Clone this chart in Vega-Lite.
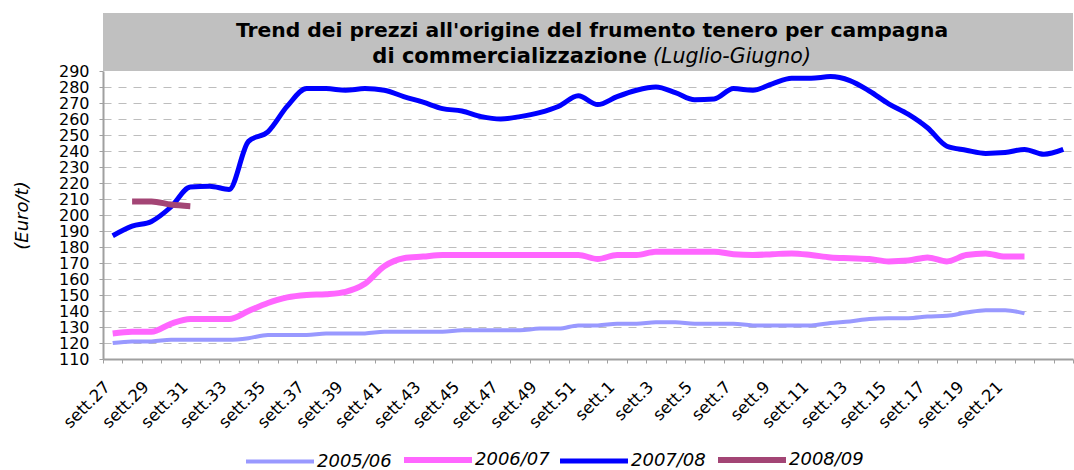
{
  "$schema": "https://vega.github.io/schema/vega-lite/v6.json",
  "padding": {"left": 13, "top": 13, "right": 0, "bottom": 0},
  "spacing": 0,
  "bounds": "flush",
  "config": {
    "font": "DejaVu Sans",
    "view": {"stroke": null}
  },
  "vconcat": [
    {
      "width": 970,
      "height": 58,
      "view": {"fill": "#C0C0C0", "stroke": null},
      "encoding": {
        "y": {"field": "line", "type": "ordinal", "axis": null, "scale": {"type": "point", "range": [24, 50], "padding": 0}}
      },
      "layer": [
        {
          "data": {"values": [{"line": 1, "text": "Trend dei prezzi all'origine del frumento tenero per campagna"}]},
          "mark": {"type": "text", "fontSize": 20.3, "fontWeight": "bold", "baseline": "alphabetic", "align": "center", "dx": 4, "color": "black"},
          "encoding": {"text": {"field": "text"}}
        },
        {
          "data": {"values": [{"line": 2, "text": "di commercializzazione"}]},
          "mark": {"type": "text", "fontSize": 21, "fontWeight": "bold", "baseline": "alphabetic", "align": "right", "dx": 59, "color": "black"},
          "encoding": {"text": {"field": "text"}}
        },
        {
          "data": {"values": [{"line": 2, "text": "(Luglio-Giugno)"}]},
          "mark": {"type": "text", "fontSize": 20.5, "fontStyle": "italic", "fontWeight": "normal", "baseline": "alphabetic", "align": "left", "dx": 65, "color": "black"},
          "encoding": {"text": {"field": "text"}}
        }
      ]
    },
    {
      "width": 970,
      "height": 288,
      "data": {"values": [
        {"week": "sett.27", "series": "2005/06", "value": 120},
        {"week": "sett.28", "series": "2005/06", "value": 121},
        {"week": "sett.29", "series": "2005/06", "value": 121},
        {"week": "sett.30", "series": "2005/06", "value": 122},
        {"week": "sett.31", "series": "2005/06", "value": 122},
        {"week": "sett.32", "series": "2005/06", "value": 122},
        {"week": "sett.33", "series": "2005/06", "value": 122},
        {"week": "sett.34", "series": "2005/06", "value": 123},
        {"week": "sett.35", "series": "2005/06", "value": 125},
        {"week": "sett.36", "series": "2005/06", "value": 125},
        {"week": "sett.37", "series": "2005/06", "value": 125},
        {"week": "sett.38", "series": "2005/06", "value": 126},
        {"week": "sett.39", "series": "2005/06", "value": 126},
        {"week": "sett.40", "series": "2005/06", "value": 126},
        {"week": "sett.41", "series": "2005/06", "value": 127},
        {"week": "sett.42", "series": "2005/06", "value": 127},
        {"week": "sett.43", "series": "2005/06", "value": 127},
        {"week": "sett.44", "series": "2005/06", "value": 127},
        {"week": "sett.45", "series": "2005/06", "value": 128},
        {"week": "sett.46", "series": "2005/06", "value": 128},
        {"week": "sett.47", "series": "2005/06", "value": 128},
        {"week": "sett.48", "series": "2005/06", "value": 128},
        {"week": "sett.49", "series": "2005/06", "value": 129},
        {"week": "sett.50", "series": "2005/06", "value": 129},
        {"week": "sett.51", "series": "2005/06", "value": 131},
        {"week": "sett.52", "series": "2005/06", "value": 131},
        {"week": "sett.1", "series": "2005/06", "value": 132},
        {"week": "sett.2", "series": "2005/06", "value": 132},
        {"week": "sett.3", "series": "2005/06", "value": 133},
        {"week": "sett.4", "series": "2005/06", "value": 133},
        {"week": "sett.5", "series": "2005/06", "value": 132},
        {"week": "sett.6", "series": "2005/06", "value": 132},
        {"week": "sett.7", "series": "2005/06", "value": 132},
        {"week": "sett.8", "series": "2005/06", "value": 131},
        {"week": "sett.9", "series": "2005/06", "value": 131},
        {"week": "sett.10", "series": "2005/06", "value": 131},
        {"week": "sett.11", "series": "2005/06", "value": 131},
        {"week": "sett.12", "series": "2005/06", "value": 132.5},
        {"week": "sett.13", "series": "2005/06", "value": 133.5},
        {"week": "sett.14", "series": "2005/06", "value": 135},
        {"week": "sett.15", "series": "2005/06", "value": 135.5},
        {"week": "sett.16", "series": "2005/06", "value": 135.5},
        {"week": "sett.17", "series": "2005/06", "value": 136.5},
        {"week": "sett.18", "series": "2005/06", "value": 137},
        {"week": "sett.19", "series": "2005/06", "value": 139},
        {"week": "sett.20", "series": "2005/06", "value": 140.5},
        {"week": "sett.21", "series": "2005/06", "value": 140.5},
        {"week": "sett.22", "series": "2005/06", "value": 138.5},

        {"week": "sett.27", "series": "2006/07", "value": 126},
        {"week": "sett.28", "series": "2006/07", "value": 127},
        {"week": "sett.29", "series": "2006/07", "value": 127},
        {"week": "sett.30", "series": "2006/07", "value": 132},
        {"week": "sett.31", "series": "2006/07", "value": 135},
        {"week": "sett.32", "series": "2006/07", "value": 135},
        {"week": "sett.33", "series": "2006/07", "value": 135},
        {"week": "sett.34", "series": "2006/07", "value": 140},
        {"week": "sett.35", "series": "2006/07", "value": 145},
        {"week": "sett.36", "series": "2006/07", "value": 148.5},
        {"week": "sett.37", "series": "2006/07", "value": 150},
        {"week": "sett.38", "series": "2006/07", "value": 150.5},
        {"week": "sett.39", "series": "2006/07", "value": 152},
        {"week": "sett.40", "series": "2006/07", "value": 157},
        {"week": "sett.41", "series": "2006/07", "value": 168},
        {"week": "sett.42", "series": "2006/07", "value": 173},
        {"week": "sett.43", "series": "2006/07", "value": 174},
        {"week": "sett.44", "series": "2006/07", "value": 175},
        {"week": "sett.45", "series": "2006/07", "value": 175},
        {"week": "sett.46", "series": "2006/07", "value": 175},
        {"week": "sett.47", "series": "2006/07", "value": 175},
        {"week": "sett.48", "series": "2006/07", "value": 175},
        {"week": "sett.49", "series": "2006/07", "value": 175},
        {"week": "sett.50", "series": "2006/07", "value": 175},
        {"week": "sett.51", "series": "2006/07", "value": 175},
        {"week": "sett.52", "series": "2006/07", "value": 172.5},
        {"week": "sett.1", "series": "2006/07", "value": 175},
        {"week": "sett.2", "series": "2006/07", "value": 175},
        {"week": "sett.3", "series": "2006/07", "value": 177},
        {"week": "sett.4", "series": "2006/07", "value": 177},
        {"week": "sett.5", "series": "2006/07", "value": 177},
        {"week": "sett.6", "series": "2006/07", "value": 177},
        {"week": "sett.7", "series": "2006/07", "value": 175.5},
        {"week": "sett.8", "series": "2006/07", "value": 175},
        {"week": "sett.9", "series": "2006/07", "value": 175.5},
        {"week": "sett.10", "series": "2006/07", "value": 176},
        {"week": "sett.11", "series": "2006/07", "value": 175},
        {"week": "sett.12", "series": "2006/07", "value": 173.5},
        {"week": "sett.13", "series": "2006/07", "value": 173},
        {"week": "sett.14", "series": "2006/07", "value": 172.5},
        {"week": "sett.15", "series": "2006/07", "value": 171},
        {"week": "sett.16", "series": "2006/07", "value": 171.5},
        {"week": "sett.17", "series": "2006/07", "value": 173.5},
        {"week": "sett.18", "series": "2006/07", "value": 171},
        {"week": "sett.19", "series": "2006/07", "value": 175},
        {"week": "sett.20", "series": "2006/07", "value": 176},
        {"week": "sett.21", "series": "2006/07", "value": 174},
        {"week": "sett.22", "series": "2006/07", "value": 174},

        {"week": "sett.27", "series": "2007/08", "value": 187},
        {"week": "sett.28", "series": "2007/08", "value": 193},
        {"week": "sett.29", "series": "2007/08", "value": 196},
        {"week": "sett.30", "series": "2007/08", "value": 205},
        {"week": "sett.31", "series": "2007/08", "value": 217.5},
        {"week": "sett.32", "series": "2007/08", "value": 218},
        {"week": "sett.33", "series": "2007/08", "value": 216},
        {"week": "sett.34", "series": "2007/08", "value": 246},
        {"week": "sett.35", "series": "2007/08", "value": 252},
        {"week": "sett.36", "series": "2007/08", "value": 268},
        {"week": "sett.37", "series": "2007/08", "value": 279},
        {"week": "sett.38", "series": "2007/08", "value": 279},
        {"week": "sett.39", "series": "2007/08", "value": 278},
        {"week": "sett.40", "series": "2007/08", "value": 279},
        {"week": "sett.41", "series": "2007/08", "value": 278},
        {"week": "sett.42", "series": "2007/08", "value": 274},
        {"week": "sett.43", "series": "2007/08", "value": 270.5},
        {"week": "sett.44", "series": "2007/08", "value": 266.5},
        {"week": "sett.45", "series": "2007/08", "value": 265},
        {"week": "sett.46", "series": "2007/08", "value": 261.5},
        {"week": "sett.47", "series": "2007/08", "value": 260},
        {"week": "sett.48", "series": "2007/08", "value": 261.5},
        {"week": "sett.49", "series": "2007/08", "value": 264},
        {"week": "sett.50", "series": "2007/08", "value": 268},
        {"week": "sett.51", "series": "2007/08", "value": 274.5},
        {"week": "sett.52", "series": "2007/08", "value": 269},
        {"week": "sett.1", "series": "2007/08", "value": 274},
        {"week": "sett.2", "series": "2007/08", "value": 278},
        {"week": "sett.3", "series": "2007/08", "value": 280},
        {"week": "sett.4", "series": "2007/08", "value": 276.5},
        {"week": "sett.5", "series": "2007/08", "value": 272},
        {"week": "sett.6", "series": "2007/08", "value": 272.5},
        {"week": "sett.7", "series": "2007/08", "value": 279},
        {"week": "sett.8", "series": "2007/08", "value": 278},
        {"week": "sett.9", "series": "2007/08", "value": 282},
        {"week": "sett.10", "series": "2007/08", "value": 285.5},
        {"week": "sett.11", "series": "2007/08", "value": 285.5},
        {"week": "sett.12", "series": "2007/08", "value": 286.5},
        {"week": "sett.13", "series": "2007/08", "value": 284},
        {"week": "sett.14", "series": "2007/08", "value": 277.5},
        {"week": "sett.15", "series": "2007/08", "value": 269.5},
        {"week": "sett.16", "series": "2007/08", "value": 263},
        {"week": "sett.17", "series": "2007/08", "value": 254.5},
        {"week": "sett.18", "series": "2007/08", "value": 243},
        {"week": "sett.19", "series": "2007/08", "value": 240.5},
        {"week": "sett.20", "series": "2007/08", "value": 238.5},
        {"week": "sett.21", "series": "2007/08", "value": 239},
        {"week": "sett.22", "series": "2007/08", "value": 241},
        {"week": "sett.23", "series": "2007/08", "value": 238},
        {"week": "sett.24", "series": "2007/08", "value": 241},

        {"week": "sett.28", "series": "2008/09", "value": 208.5},
        {"week": "sett.29", "series": "2008/09", "value": 208.5},
        {"week": "sett.30", "series": "2008/09", "value": 206.5},
        {"week": "sett.31", "series": "2008/09", "value": 205.5}
      ]},
      "mark": {"type": "line", "interpolate": "monotone", "strokeCap": "butt", "strokeJoin": "round"},
      "encoding": {
        "x": {
          "field": "week",
          "type": "ordinal",
          "scale": {
            "type": "band",
            "paddingInner": 0,
            "paddingOuter": 0,
            "domain": ["sett.27","sett.28","sett.29","sett.30","sett.31","sett.32","sett.33","sett.34","sett.35","sett.36","sett.37","sett.38","sett.39","sett.40","sett.41","sett.42","sett.43","sett.44","sett.45","sett.46","sett.47","sett.48","sett.49","sett.50","sett.51","sett.52","sett.1","sett.2","sett.3","sett.4","sett.5","sett.6","sett.7","sett.8","sett.9","sett.10","sett.11","sett.12","sett.13","sett.14","sett.15","sett.16","sett.17","sett.18","sett.19","sett.20","sett.21","sett.22","sett.23","sett.24"]
          },
          "axis": {
            "title": null,
            "tickBand": "extent",
            "labelAngle": -45,
            "labelAlign": "right",
            "labelBaseline": "middle",
            "labelFontSize": 16.5,
            "labelColor": "black",
            "labelPadding": 21,
            "labelOffset": -5.5,
            "labelOverlap": false,
            "labelExpr": "(parseInt(substring(datum.label, 5)) % 2 == 1 && datum.label != 'sett.23') ? datum.label : ''",
            "tickSize": 4,
            "tickColor": "#A0A0A0",
            "domainColor": "#A0A0A0",
            "domainWidth": 2,
            "grid": false
          }
        },
        "y": {
          "field": "value",
          "type": "quantitative",
          "scale": {"domain": [110, 290], "nice": false, "zero": false},
          "axis": {
            "title": "(Euro/t)",
            "titleFontStyle": "italic",
            "titleFontWeight": "normal",
            "titleFontSize": 18,
            "titleColor": "black",
            "titlePadding": 27,
            "values": [110,120,130,140,150,160,170,180,190,200,210,220,230,240,250,260,270,280,290],
            "labelOverlap": false,
            "labelFontSize": 16,
            "labelColor": "black",
            "labelPadding": 10,
            "tickSize": 4,
            "tickColor": "#A0A0A0",
            "domainColor": "#A0A0A0",
            "domainWidth": 2,
            "grid": true,
            "gridColor": "#BDBDBD",
            "gridDash": [8, 7],
            "gridWidth": 1,
            "gridOpacity": {"condition": {"test": "datum.value >= 290", "value": 0}, "value": 1}
          }
        },
        "color": {
          "field": "series",
          "type": "nominal",
          "scale": {"domain": ["2005/06", "2006/07", "2007/08", "2008/09"], "range": ["#9999FF", "#FF66FF", "#0000FF", "#A34575"]},
          "legend": {
            "orient": "none",
            "legendX": 143,
            "legendY": 438,
            "direction": "horizontal",
            "title": null,
            "symbolType": "M-6,0H6",
            "symbolSize": 128.4,
            "symbolOffset": 25,
            "labelFontSize": 18,
            "labelFontStyle": "italic",
            "labelColor": "black",
            "labelOffset": 28,
            "columnPadding": 0
          }
        },
        "strokeWidth": {
          "field": "series",
          "type": "nominal",
          "scale": {"type": "ordinal", "domain": ["2005/06", "2006/07", "2007/08", "2008/09"], "range": [4, 6, 5, 6]},
          "legend": {
            "orient": "none",
            "legendX": 143,
            "legendY": 438,
            "direction": "horizontal",
            "title": null,
            "symbolType": "M-6,0H6",
            "symbolSize": 128.4,
            "symbolOffset": 25,
            "labelFontSize": 18,
            "labelFontStyle": "italic",
            "labelColor": "black",
            "labelOffset": 28,
            "columnPadding": 0
          }
        }
      }
    }
  ]
}
